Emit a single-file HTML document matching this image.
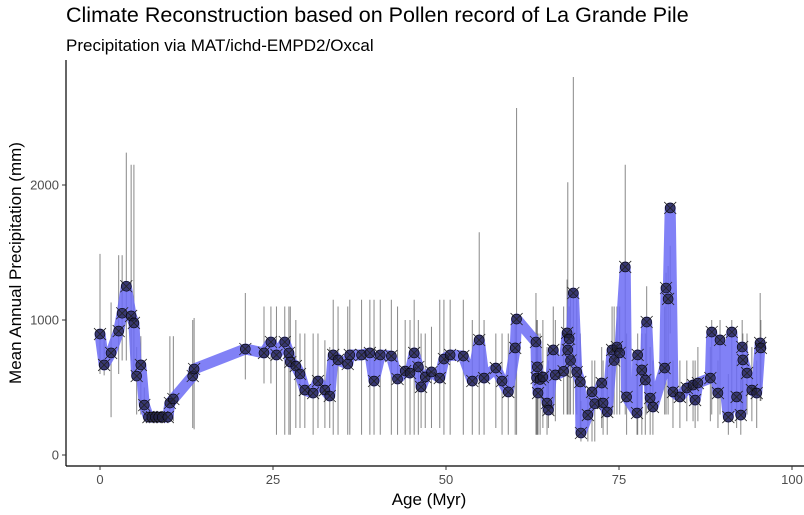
<!DOCTYPE html>
<html><head><meta charset="utf-8"><style>
body{margin:0;background:#fff;font-family:"Liberation Sans",sans-serif}
svg text{font-family:"Liberation Sans",sans-serif}
</style></head><body>
<svg id="chart" width="804" height="510" viewBox="0 0 804 510">
<text x="66" y="22" font-size="21.5" fill="#000">Climate Reconstruction based on Pollen record of La Grande Pile</text>
<text x="66" y="51" font-size="17" fill="#000">Precipitation via MAT/ichd-EMPD2/Oxcal</text>
<g id="errs"></g>
<g id="line"></g>
<g id="pts"></g>
<g id="axes"></g>
<text transform="translate(21,263) rotate(-90)" text-anchor="middle" font-size="17">Mean Annual Precipitation (mm)</text>
<text x="429" y="505" text-anchor="middle" font-size="17">Age (Myr)</text>
</svg>
<script>
const ages=[0,0.6,1.6,2.7,3.2,3.8,4.5,4.9,5.3,5.9,6.4,7.0,7.5,8.0,8.5,9.0,9.8,10.1,10.6,13.4,13.6,21,23.7,24.7,25.5,26.7,27.3,27.5,28.3,28.9,29.6,30.8,31.5,32.5,33.2,33.7,34.4,35.8,36.1,37.8,39,39.6,40.5,42.1,43,44.1,44.8,45.4,46,46.4,47,47.9,49.1,49.7,50.6,52.5,53.8,54.8,55.5,57.2,58.1,59,60,60.2,63,63.1,63.2,63.3,63.6,64,64.6,64.8,65.5,65.8,67.0,67.5,67.6,67.8,68.0,68.4,68.9,69.4,69.5,70.5,71.1,71.5,72.5,72.7,73.3,74,74.3,74.7,75.1,75.9,76.1,77.6,77.7,78.3,78.8,79,79.5,79.9,81.6,81.8,82.1,82.4,82.8,83.8,84.8,85.7,86,86.4,88.2,88.4,89.3,89.6,90.8,91.3,92,92.6,92.8,92.9,93.5,94.2,94.9,95.4,95.5];
const precip=[896,667,756,918,1050,1250,1030,978,585,667,370,281,281,281,281,281,281,385,415,585,637,785,756,837,741,837,756,689,659,600,481,459,548,481,437,741,704,674,741,741,756,548,741,733,563,622,607,756,652,504,578,615,570,711,741,733,548,852,570,644,548,467,793,1007,837,570,652,459,560,578,385,333,778,593,620,904,778,860,700,1200,615,541,163,296,467,380,533,385,319,778,700,800,756,1393,430,311,741,630,555,985,422,356,644,1237,1156,1830,467,430,496,518,407,533,570,911,459,852,281,911,430,296,800,704,607,481,459,830,793];
const lower=[600,590,280,600,700,700,700,600,300,300,250,250,250,250,250,250,250,250,250,200,190,560,530,530,150,150,150,150,200,200,200,150,200,200,200,150,150,150,150,150,150,150,150,150,150,150,150,150,150,200,200,200,200,150,150,150,150,150,150,200,150,150,150,150,150,150,150,150,150,200,150,200,300,250,300,300,300,300,300,300,300,200,100,100,100,100,200,150,150,300,300,300,300,300,150,150,150,150,150,300,150,150,300,300,300,900,200,200,250,250,200,250,250,300,200,300,150,300,200,150,300,300,300,250,200,400,400];
const upper=[1490,880,1130,1480,1480,2240,2150,2150,800,880,500,320,320,320,320,320,320,880,880,1000,1015,1200,1100,1100,1100,1100,1100,1100,1000,900,900,900,900,850,800,1150,1100,1100,1150,1150,1150,1150,1150,1150,1100,1000,1000,1150,1000,900,900,950,1150,1150,1150,1150,1000,1650,1000,900,900,900,1000,2570,1200,1000,1000,900,900,1000,800,700,1100,1000,1100,1300,2020,1100,1200,2800,1200,900,400,500,700,700,800,700,700,1100,1100,1100,1100,2150,900,700,900,900,900,1250,800,700,1100,1350,1400,1550,700,700,700,700,700,800,800,1000,700,1000,600,1000,700,600,1000,900,900,800,700,1200,1000];
const xTicks=[0,25,50,75,100];
const yTicks=[0,1000,2000];
const X=v=>100+v*6.92, Y=v=>455-v*0.135;
const NS='http://www.w3.org/2000/svg';
function mk(tag,attrs,parent){const e=document.createElementNS(NS,tag);for(const k in attrs)e.setAttribute(k,attrs[k]);parent.appendChild(e);return e;}
const errs=document.getElementById('errs'),line=document.getElementById('line'),pts=document.getElementById('pts'),axes=document.getElementById('axes');
ages.forEach((a,i)=>{
  const l=mk('line',{x1:X(a),x2:X(a),y1:Y(lower[i]),y2:Y(Math.min(upper[i],2900)),stroke:'#555','stroke-width':1,'stroke-opacity':0.7},errs);
  
  
});
const p=mk('polyline',{points:ages.map((a,i)=>X(a)+','+Y(precip[i])).join(' '),fill:'none',stroke:'#6b6bf5','stroke-opacity':0.85,'stroke-width':11,'stroke-linejoin':'round','stroke-linecap':'round'},line);


ages.forEach((a,i)=>{
  const cx=X(a),cy=Y(precip[i]);
  const g=mk('g',{},pts);
  
  
  mk('circle',{cx:cx,cy:cy,r:5,fill:'#22224a','fill-opacity':0.75,stroke:'#000','stroke-width':0.6},g);
  mk('path',{d:`M${cx-6},${cy-6}L${cx+6},${cy+6}M${cx-6},${cy+6}L${cx+6},${cy-6}`,stroke:'#222','stroke-width':0.8},g);
});
mk('line',{x1:66,x2:66,y1:60,y2:466,stroke:'#000','stroke-width':1.2},axes);
mk('line',{x1:66,x2:806,y1:466,y2:466,stroke:'#000','stroke-width':1.2},axes);
xTicks.forEach(t=>{
  mk('line',{x1:X(t),x2:X(t),y1:466,y2:470,stroke:'#333'},axes);
  const tx=mk('text',{x:X(t),y:484,'text-anchor':'middle','font-size':13,fill:'#4d4d4d'},axes);
  tx.textContent=t;
  
  
});
yTicks.forEach(t=>{
  mk('line',{x1:62,x2:66,y1:Y(t),y2:Y(t),stroke:'#333'},axes);
  const tx=mk('text',{x:59,y:Y(t)+4.5,'text-anchor':'end','font-size':13,fill:'#4d4d4d'},axes);
  tx.textContent=t;
  
  
});
</script>
</body></html>
